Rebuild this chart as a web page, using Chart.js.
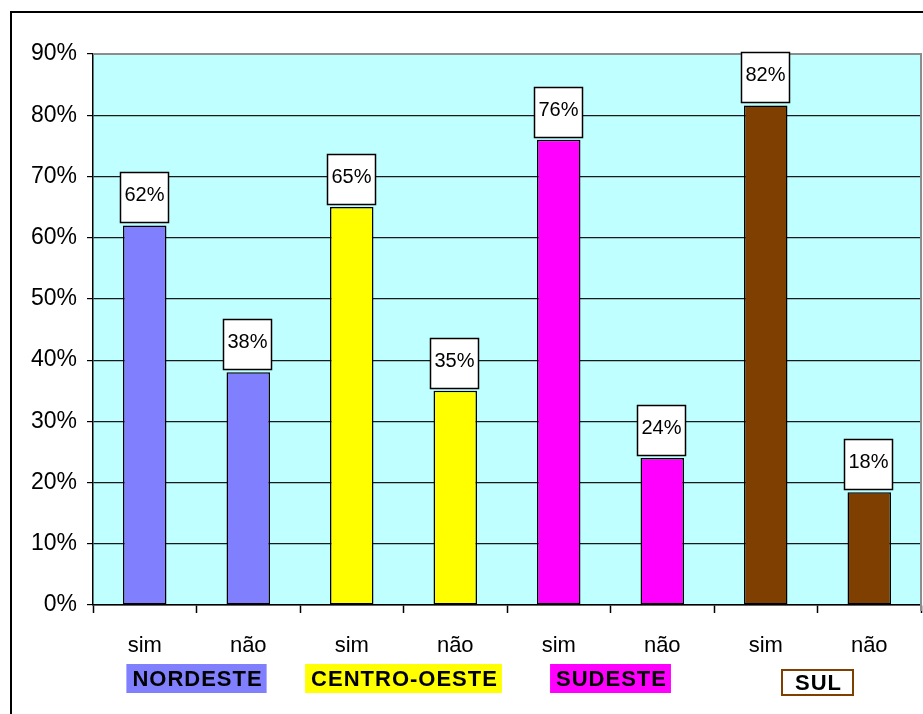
<!DOCTYPE html>
<html>
<head>
<meta charset="utf-8">
<script src="https://cdn.jsdelivr.net/npm/chart.js@4/dist/chart.umd.min.js"></script>
<style>
  html, body { margin: 0; padding: 0; background: #fff; }
  #wrap { width: 923px; height: 714px; }
</style>
</head>
<body>
<div id="wrap"><canvas id="c" width="923" height="714"></canvas></div>
<script>
// Regions and answers (two bars per region)
const regions = ['NORDESTE', 'CENTRO-OESTE', 'SUDESTE', 'SUL'];
const answers = ['sim', 'não'];
const simValues = [62, 65, 76, 81.6];
const naoValues = [38, 35, 24, 18.4];
const yTicks = [0, 10, 20, 30, 40, 50, 60, 70, 80, 90];
const regionColors = ['#8080FF', '#FFFF00', '#FF00FF', '#7F3F00'];

// Interleave sim / não per region
const labels = [];
const values = [];
const barColors = [];
regions.forEach((r, i) => {
    labels.push(answers[0], answers[1]);
    values.push(simValues[i], naoValues[i]);
    barColors.push(regionColors[i], regionColors[i]);
});

const FONT = 'Liberation Sans, Arial, sans-serif';

// Frame, plot background
const backgroundPlugin = {
    id: 'bg',
    beforeDraw(chart) {
        const { ctx, chartArea: a } = chart;
        ctx.save();
        ctx.fillStyle = '#fff';
        ctx.fillRect(0, 0, chart.width, chart.height);
        ctx.strokeStyle = '#000';
        ctx.lineWidth = 2;
        ctx.strokeRect(11, 12, chart.width, chart.height);
        ctx.fillStyle = '#C0FFFF';
        ctx.fillRect(a.left, a.top, a.right - a.left, a.bottom - a.top);
        ctx.restore();
    },
    afterDatasetsDraw(chart) {
        const { ctx, chartArea: a } = chart;
        ctx.save();
        ctx.strokeStyle = '#8c8c8c';
        ctx.lineWidth = 2;
        ctx.beginPath();
        ctx.moveTo(a.left, a.top);
        ctx.lineTo(a.right, a.top);
        ctx.lineTo(a.right, a.bottom + 6);
        ctx.stroke();
        ctx.restore();
    }
};

// White value boxes above each bar
const valueBoxPlugin = {
    id: 'valueBoxes',
    afterDatasetsDraw(chart) {
        const { ctx } = chart;
        const meta = chart.getDatasetMeta(0);
        ctx.save();
        meta.data.forEach((bar, i) => {
            const w = 48, h = 50;
            const x = Math.round(bar.x - w / 2 - 1) + 0.5;
            const y = Math.round(bar.y - 3 - h) + 0.5;
            ctx.fillStyle = '#fff';
            ctx.fillRect(x, y, w, h);
            ctx.strokeStyle = '#000';
            ctx.lineWidth = 1.5;
            ctx.strokeRect(x, y, w, h);
            ctx.fillStyle = '#000';
            ctx.font = '20px ' + FONT;
            ctx.textAlign = 'center';
            ctx.textBaseline = 'middle';
            ctx.fillText(Math.round(values[i]) + '%', x + w / 2, y + h / 2 - 2);
        });
        ctx.restore();
    }
};

// Region name boxes under the axis
const regionPlugin = {
    id: 'regions',
    afterDraw(chart) {
        const { ctx } = chart;
        const xs = chart.scales.x;
        ctx.save();
        ctx.font = 'bold 22px ' + FONT;
        ctx.letterSpacing = '1px';
        ctx.textAlign = 'center';
        ctx.textBaseline = 'middle';
        regions.forEach((r, i) => {
            const cx = (xs.getPixelForValue(2 * i) + xs.getPixelForValue(2 * i + 1)) / 2;
            const tw = ctx.measureText(r).width;
            const outlined = i === regions.length - 1;
            const pad = outlined ? 12 : 5;
            const bw = tw + pad * 2;
            const top = outlined ? 670 : 664;
            const bh = outlined ? 25 : 29;
            if (outlined) {
                ctx.fillStyle = '#fff';
                ctx.fillRect(cx - bw / 2, top, bw, bh);
                ctx.strokeStyle = regionColors[i];
                ctx.lineWidth = 2;
                ctx.strokeRect(cx - bw / 2, top, bw, bh);
            } else {
                ctx.fillStyle = regionColors[i];
                ctx.fillRect(cx - bw / 2, top, bw, bh);
            }
            ctx.fillStyle = '#000';
            ctx.fillText(r, cx + 1, top + bh / 2 + 1);
        });
        ctx.restore();
    }
};

new Chart(document.getElementById('c'), {
    type: 'bar',
    data: {
        labels: labels,
        datasets: [{
            data: values,
            backgroundColor: barColors,
            borderColor: '#000',
            borderWidth: 1.5,
            borderSkipped: false,
            categoryPercentage: 1,
            barPercentage: 0.42
        }]
    },
    options: {
        responsive: false,
        animation: false,
        devicePixelRatio: 1,
        layout: { padding: { left: 0, top: 54, right: 2, bottom: 0 } },
        plugins: {
            legend: { display: false },
            tooltip: { enabled: false }
        },
        scales: {
            x: {
                offset: true,
                grid: {
                    offset: true,
                    drawOnChartArea: false,
                    drawTicks: true,
                    tickLength: 8,
                    tickColor: '#000',
                    tickWidth: 1.5
                },
                border: { color: '#000', width: 1.5 },
                ticks: {
                    color: '#000',
                    font: { family: FONT, size: 22 },
                    padding: 20,
                    maxRotation: 0
                },
                afterFit(scale) { scale.height = 109; }
            },
            y: {
                min: yTicks[0],
                max: yTicks[yTicks.length - 1],
                afterBuildTicks(scale) { scale.ticks = yTicks.map(v => ({ value: v })); },
                grid: {
                    color: '#1a1a1a',
                    lineWidth: 1.2,
                    tickLength: 6,
                    tickColor: '#000'
                },
                border: { color: '#000', width: 1.5 },
                ticks: {
                    color: '#000',
                    font: { family: FONT, size: 23 },
                    padding: 10,
                    callback: v => v + '%'
                },
                afterFit(scale) { scale.width = 93; }
            }
        }
    },
    plugins: [backgroundPlugin, valueBoxPlugin, regionPlugin]
});
</script>
</body>
</html>
